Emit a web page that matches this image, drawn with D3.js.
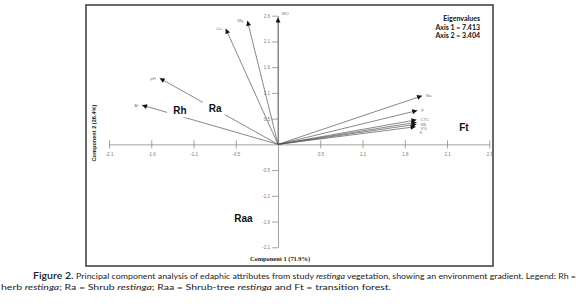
<!DOCTYPE html>
<html>
<head>
<meta charset="utf-8">
<script src="https://cdn.jsdelivr.net/npm/d3@7"></script>
<style>
    body { margin: 0; background: #fff; }
</style>
</head>
<body>
<div id="chart"></div>
<script>
// loadings of the edaphic attributes on component 1 / component 2
const varNames = ["MO", "Mg", "Ca", "pH", "Al", "Na", "P", "CTC", "SB", "V%", "K"]
const pc1 = [0.00, -0.38, -0.65, -1.47, -1.69, 1.79, 1.73, 1.72, 1.72, 1.72, 1.71]
const pc2 = [2.59, 2.52, 2.36, 1.35, 0.80, 0.99, 0.69, 0.50, 0.45, 0.41, 0.36]

// vegetation groups
const groupNames = ["Rh", "Ra", "Ft", "Raa"]
const groupX = [-1.22, -0.78, 2.31, -0.43]
const groupY = [0.61, 0.67, 0.27, -1.59]

const xTicks = [-2.1, -1.575, -1.05, -0.525, 0.525, 1.05, 1.575, 2.1, 2.625]
const xTickLabels = ["-2.1", "-1.6", "-1.1", "-0.5", "0.5", "1.1", "1.6", "2.1", "2.6"]
const yTicks = [-2.1, -1.575, -1.05, -0.525, 0.525, 1.05, 1.575, 2.1, 2.625]
const yTickLabels = ["-2.1", "-1.6", "-1.1", "-0.5", "0.5", "1.1", "1.6", "2.1", "2.6"]

const eigenLines = ["Eigenvalues", "Axis 1 = 7.413", "Axis 2 = 3.404"]
const axisTitles = ["Component 1 (71.9%)", "Component 2 (26.4%)"]

const W = 578, H = 306

const svg = d3.select('#chart')
    .append('svg')
    .attr('width', W)
    .attr('height', H)
    .style('background', '#fff')

const x = d3.scaleLinear().domain([-2.1, 2.625]).range([109, 489.3])
const y = d3.scaleLinear().domain([-2.1, 2.625]).range([247.3, 15.7])

// frame
svg.append('rect')
    .attr('x', 86).attr('y', 5)
    .attr('width', 407).attr('height', 261)
    .attr('fill', 'none')
    .attr('stroke', '#444')
    .attr('stroke-width', 1.6)

// axes through the origin
const gx = svg.append('g')
    .attr('transform', `translate(0,${y(0)})`)
    .call(d3.axisBottom(x)
        .tickValues(xTicks)
        .tickFormat((d, i) => xTickLabels[i])
        .tickSize(4)
        .tickSizeOuter(0)
        .tickPadding(4))
gx.selectAll('.tick line').attr('y1', -4)

const gy = svg.append('g')
    .attr('transform', `translate(${x(0)},0)`)
    .call(d3.axisLeft(y)
        .tickValues(yTicks)
        .tickFormat((d, i) => yTickLabels[i])
        .tickSize(6)
        .tickSizeOuter(0)
        .tickPadding(2))

svg.selectAll('.domain, .tick line').attr('stroke', '#8a8a8a').attr('stroke-width', 0.8)
svg.selectAll('.tick text')
    .attr('fill', '#777')
    .style('font-family', 'Liberation Sans, Arial, sans-serif')
    .style('font-size', '4.5px')

// arrow marker
svg.append('defs').append('marker')
    .attr('id', 'arrow')
    .attr('viewBox', '0 0 10 10')
    .attr('refX', 10).attr('refY', 5)
    .attr('markerUnits', 'userSpaceOnUse')
    .attr('markerWidth', 7).attr('markerHeight', 5)
    .attr('orient', 'auto')
    .append('path')
    .attr('d', 'M0,0L10,5L0,10z')
    .attr('fill', '#111')

// loading vectors
const vec = svg.append('g')
varNames.forEach((name, i) => {
    vec.append('line')
        .attr('x1', x(0)).attr('y1', y(0))
        .attr('x2', x(pc1[i])).attr('y2', y(pc2[i]))
        .attr('stroke', '#555')
        .attr('stroke-width', 0.7)
        .attr('marker-end', 'url(#arrow)')
})

// labels at the arrow tips; the crowded ones on the right get pushed apart a little
let lastRight = -Infinity
varNames.map((name, i) => i)
    .sort((a, b) => y(pc2[a]) - y(pc2[b]))
    .forEach(i => {
        const left = pc1[i] < 0
        let ly = y(pc2[i]) + (Math.abs(pc1[i]) < 0.05 ? -2 : 1.5)
        if (pc1[i] > 1.5) {
            ly = Math.max(ly, lastRight + 4.2)
            lastRight = ly
        }
        vec.append('text')
            .attr('x', x(pc1[i]) + (left ? -4 : 4))
            .attr('y', ly)
            .attr('text-anchor', left ? 'end' : 'start')
            .attr('fill', '#777')
            .style('font-family', 'Liberation Sans, Arial, sans-serif')
            .style('font-size', '4.2px')
            .text(varNames[i])
    })

// group labels, white box behind so the vectors are cut like in the figure
groupNames.forEach((g, i) => {
    const t = svg.append('text')
        .attr('x', x(groupX[i]))
        .attr('y', y(groupY[i]))
        .attr('text-anchor', 'middle')
        .attr('fill', '#111')
        .style('font-family', 'Liberation Sans, Arial, sans-serif')
        .style('font-weight', 'bold')
        .style('font-size', '10px')
        .text(g)
    const b = t.node().getBBox()
    svg.insert('rect', () => t.node())
        .attr('x', b.x - 6).attr('y', b.y - 1)
        .attr('width', b.width + 12).attr('height', b.height + 2)
        .attr('fill', '#fff')
})

// eigenvalues box text
svg.append('g')
    .selectAll('text')
    .data(eigenLines)
    .join('text')
    .attr('x', 480)
    .attr('y', (d, i) => 21 + i * 8.6)
    .attr('text-anchor', 'end')
    .attr('fill', '#111')
    .style('font-family', 'Lato, sans-serif')
    .style('font-weight', 'bold')
    .style('font-size', '7px')
    .text(d => d)

// axis titles
svg.append('text')
    .attr('x', 280).attr('y', 261)
    .attr('text-anchor', 'middle')
    .attr('fill', '#222')
    .style('font-family', 'Liberation Serif, serif')
    .style('font-weight', 'bold')
    .style('font-size', '6.4px')
    .text(axisTitles[0])

svg.append('text')
    .attr('transform', 'translate(96,133) rotate(-90)')
    .attr('text-anchor', 'middle')
    .attr('fill', '#222')
    .style('font-family', 'Liberation Sans, Arial, sans-serif')
    .style('font-weight', 'bold')
    .style('font-size', '5.6px')
    .text(axisTitles[1])

// caption
const cap1 = svg.append('text')
    .attr('x', 33).attr('y', 279)
    .attr('fill', '#222')
    .style('font-family', 'Lato, sans-serif')
    .style('font-size', '8.4px')
cap1.append('tspan').style('font-size', '10px').style('font-weight', '600').text('Figure 2. ')
cap1.append('tspan').text('Principal component analysis of edaphic attributes from study ')
cap1.append('tspan').style('font-style', 'italic').text('restinga')
cap1.append('tspan').text(' vegetation, showing an environment gradient. Legend: Rh =')

const cap2 = svg.append('text')
    .attr('x', 1).attr('y', 290)
    .attr('fill', '#222')
    .style('font-family', 'Lato, sans-serif')
    .style('font-size', '8.4px')
cap2.append('tspan').text('herb ')
cap2.append('tspan').style('font-style', 'italic').text('restinga')
cap2.append('tspan').text('; Ra = Shrub ')
cap2.append('tspan').style('font-style', 'italic').text('restinga')
cap2.append('tspan').text('; Raa = Shrub-tree ')
cap2.append('tspan').style('font-style', 'italic').text('restinga')
cap2.append('tspan').text(' and Ft = transition forest.')

// squeeze each caption line to the width it has in the figure
const fit = (sel, target) => {
    sel.attr('textLength', target).attr('lengthAdjust', 'spacingAndGlyphs')
}
fit(cap1, 543)
fit(cap2, 390)
</script>
</body>
</html>
